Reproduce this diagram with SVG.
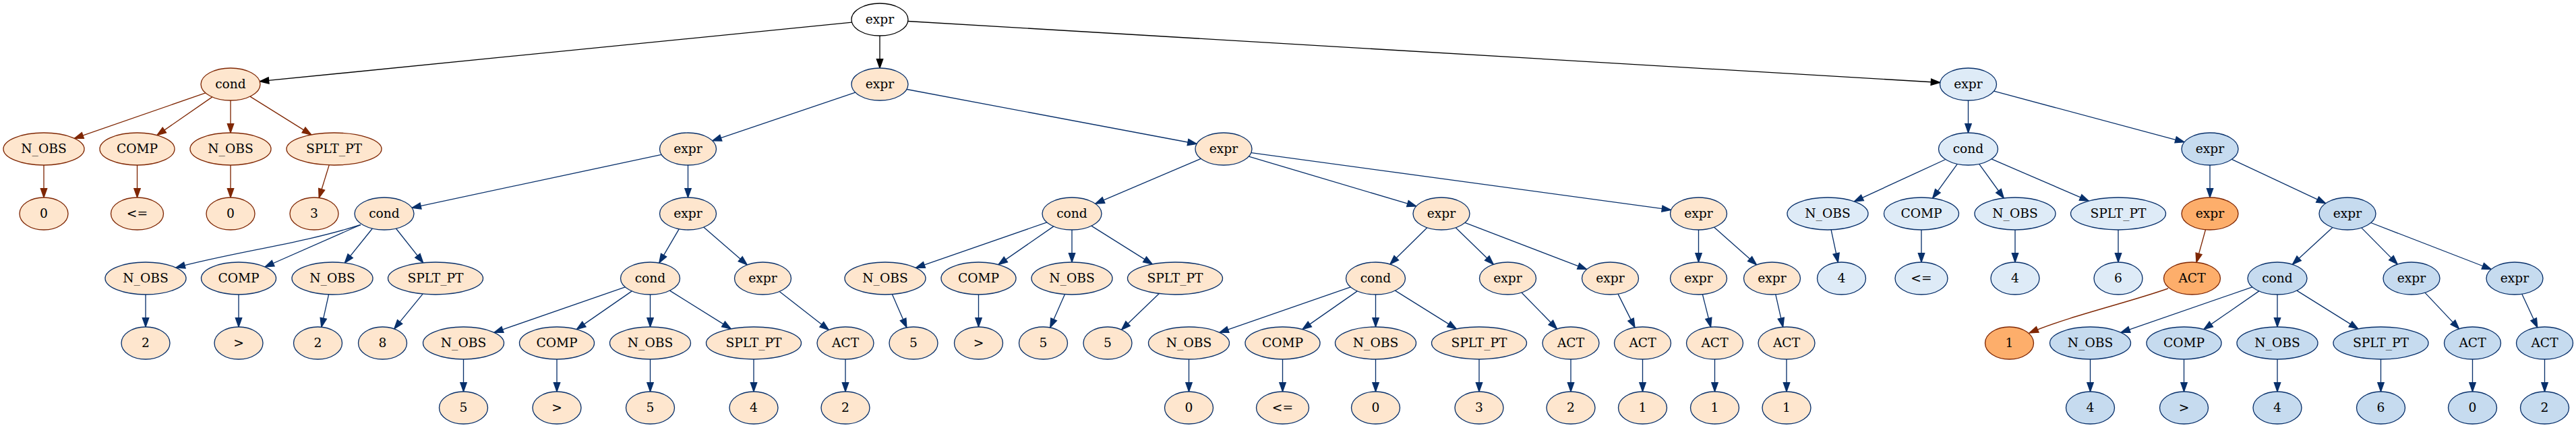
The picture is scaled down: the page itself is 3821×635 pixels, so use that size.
<svg xmlns="http://www.w3.org/2000/svg" width="3821" height="635" viewBox="0 0 3821 635">
<style>
text{font-family:"DejaVu Serif","Liberation Serif",serif;font-size:18.67px;text-anchor:middle;fill:#000}
ellipse{stroke-width:1.33}
.w ellipse{fill:#fff;stroke:#000}
.ob ellipse{fill:#fee6ce;stroke:#7f2704}
.on ellipse{fill:#fee6ce;stroke:#08306b}
.lb ellipse{fill:#deebf7;stroke:#08306b}
.mb ellipse{fill:#c6dbef;stroke:#08306b}
.or ellipse{fill:#fdae6b;stroke:#7f2704}
.e path{fill:none;stroke-width:1.33}
.k path{stroke:#000;marker-end:url(#ak)}
.b path{stroke:#08306b;marker-end:url(#ab)}
.r path{stroke:#7f2704;marker-end:url(#ar)}
</style>
<defs>
<marker id="ak" viewBox="-2 -2 18 14" refX="13.33" refY="4.67" markerWidth="18" markerHeight="14" orient="auto" markerUnits="userSpaceOnUse"><path d="M0,0L13.33,4.67L0,9.33z" fill="#000" stroke="#000" stroke-width="1.33"/></marker>
<marker id="ab" viewBox="-2 -2 18 14" refX="13.33" refY="4.67" markerWidth="18" markerHeight="14" orient="auto" markerUnits="userSpaceOnUse"><path d="M0,0L13.33,4.67L0,9.33z" fill="#08306b" stroke="#08306b" stroke-width="1.33"/></marker>
<marker id="ar" viewBox="-2 -2 18 14" refX="13.33" refY="4.67" markerWidth="18" markerHeight="14" orient="auto" markerUnits="userSpaceOnUse"><path d="M0,0L13.33,4.67L0,9.33z" fill="#7f2704" stroke="#7f2704" stroke-width="1.33"/></marker>
</defs>
<rect width="3821" height="635" fill="#fff"/>
<g id="edges" class="e">
<g class="k">
<path d="M1263.6,33.1L385.3,120.7"/>
<path d="M1305,53L1305,101"/>
<path d="M1346.8,31.5L2877.7,122.5"/>
</g>
<g class="r">
<path d="M304.9,137.9L110.3,205.3"/>
<path d="M314.8,143.9L232.9,200.6"/>
<path d="M342,149L342,197"/>
<path d="M370.9,143.1L461.8,199.9"/>
<path d="M65,245L65,293"/>
<path d="M203.5,245L203.5,293"/>
<path d="M342,245L342,293"/>
<path d="M488.2,244.9L473.2,293.5"/>
<path d="M3271.5,340.7L3258,389.3"/>
<path d="M3216,428C3157,449 3072,468 3010,494"/>
</g>
<g class="b">
<path d="M1268.8,137.2L1056.7,208.8"/>
<path d="M1344.9,132.5L1775.1,213.5"/>
<path d="M981.2,229.4L611,308.3"/>
<path d="M1020.5,245L1020.5,293"/>
<path d="M535,333.5C446,362 351,373 261,397"/>
<path d="M535,333.5L393,396"/>
<path d="M552.4,339L511.3,390.1"/>
<path d="M587.4,339L627.7,389.8"/>
<path d="M216,437L216,485"/>
<path d="M354,437L354,485"/>
<path d="M487.6,436.9L476.8,485.3"/>
<path d="M627.1,436.1L584.7,487.9"/>
<path d="M1007.2,339.8L977.8,390.1"/>
<path d="M1043.7,337L1108.3,393"/>
<path d="M927.4,425.9L732.9,493.3"/>
<path d="M937.3,431.9L855.4,488.6"/>
<path d="M964.5,437L964.5,485"/>
<path d="M993.4,431.1L1084.3,487.9"/>
<path d="M1156.2,432.4L1229.3,489.6"/>
<path d="M687.5,533L687.5,581"/>
<path d="M826,533L826,581"/>
<path d="M964.5,533L964.5,581"/>
<path d="M1118,533L1118,581"/>
<path d="M1254,533L1254,581"/>
<path d="M1781.3,235.4L1624.7,302.2"/>
<path d="M1852.3,232.1L2100.7,305.9"/>
<path d="M1855.9,226.6L2478.6,311.4"/>
<path d="M1552.9,329.9L1358.4,397.3"/>
<path d="M1562.8,335.9L1480.9,392.6"/>
<path d="M1590,341L1590,389"/>
<path d="M1618.9,335.1L1709.3,391.9"/>
<path d="M1323.3,436.6L1344.9,486"/>
<path d="M1451.5,437L1451.5,485"/>
<path d="M1579.5,436.6L1557.7,486"/>
<path d="M1719.4,435.6L1663.5,489.3"/>
<path d="M2116.9,337.8L2061.8,392"/>
<path d="M2159.2,337.7L2215.3,392.3"/>
<path d="M2172.9,330.4L2353.6,399.6"/>
<path d="M2003.4,425.9L1808.9,493.3"/>
<path d="M2013.3,431.9L1931.9,488.6"/>
<path d="M2040.5,437L2040.5,485"/>
<path d="M2069.4,431.1L2160.3,487.9"/>
<path d="M2256.9,434L2309.6,488"/>
<path d="M2400,436.1L2425,485.9"/>
<path d="M1763.5,533L1763.5,581"/>
<path d="M1902.5,533L1902.5,581"/>
<path d="M2040.5,533L2040.5,581"/>
<path d="M2194,533L2194,581"/>
<path d="M2330,533L2330,581"/>
<path d="M2436.5,533L2436.5,581"/>
<path d="M2519.5,341L2519.5,389"/>
<path d="M2542.4,337.1L2605.6,392.9"/>
<path d="M2525.4,436.8L2537.6,485.2"/>
<path d="M2633.8,436.8L2644.7,485.2"/>
<path d="M2543.5,533L2543.5,581"/>
<path d="M2650,533L2650,581"/>
<path d="M2919.5,149L2919.5,197"/>
<path d="M2957.5,135.2L3240,210.8"/>
<path d="M2885.9,236.5L2750.4,298.9"/>
<path d="M2903.3,243.3L2866.6,294.1"/>
<path d="M2935.7,243.3L2972.3,294"/>
<path d="M2954,235.9L3098.3,298.2"/>
<path d="M2716.1,340.9L2726.4,389.2"/>
<path d="M2850,341L2850,389"/>
<path d="M2989,341L2989,389"/>
<path d="M3142,341L3142,389"/>
<path d="M3278,245L3278,293"/>
<path d="M3310.4,236.3L3449.6,301.7"/>
<path d="M3459.9,337.4L3400.4,392.3"/>
<path d="M3502.7,337.9L3556.3,392.1"/>
<path d="M3516.8,330.5L3695.2,399.5"/>
<path d="M3340.9,425.9L3145.9,493.3"/>
<path d="M3350.8,431.9L3268.9,488.6"/>
<path d="M3378,437L3378,485"/>
<path d="M3406.9,431.1L3497.8,487.9"/>
<path d="M3596.9,434.1L3647.6,487.9"/>
<path d="M3740.8,436.2L3763.8,485.8"/>
<path d="M3100.5,533L3100.5,581"/>
<path d="M3239.5,533L3239.5,581"/>
<path d="M3378,533L3378,581"/>
<path d="M3531.5,533L3531.5,581"/>
<path d="M3667.5,533L3667.5,581"/>
<path d="M3774.5,533L3774.5,581"/>
</g>
</g>
<g id="n0" class="w"><ellipse cx="1305" cy="29" rx="42" ry="24"/><text x="1305" y="34.6">expr</text></g>
<g id="n1" class="ob"><ellipse cx="342" cy="125" rx="44" ry="24"/><text x="342" y="130.6">cond</text></g>
<g id="n2" class="on"><ellipse cx="1305" cy="125" rx="42" ry="24"/><text x="1305" y="130.6">expr</text></g>
<g id="n3" class="lb"><ellipse cx="2919.5" cy="125" rx="42" ry="24"/><text x="2919.5" y="130.6">expr</text></g>
<g id="n4" class="ob"><ellipse cx="65" cy="221" rx="60" ry="24"/><text x="65" y="226.6">N_OBS</text></g>
<g id="n5" class="ob"><ellipse cx="203.5" cy="221" rx="55.5" ry="24"/><text x="203.5" y="226.6">COMP</text></g>
<g id="n6" class="ob"><ellipse cx="342" cy="221" rx="60" ry="24"/><text x="342" y="226.6">N_OBS</text></g>
<g id="n7" class="ob"><ellipse cx="495.5" cy="221" rx="70.5" ry="24"/><text x="495.5" y="226.6">SPLT_PT</text></g>
<g id="n8" class="on"><ellipse cx="1020.5" cy="221" rx="42" ry="24"/><text x="1020.5" y="226.6">expr</text></g>
<g id="n9" class="on"><ellipse cx="1815" cy="221" rx="42" ry="24"/><text x="1815" y="226.6">expr</text></g>
<g id="n10" class="lb"><ellipse cx="2919.5" cy="221" rx="44" ry="24"/><text x="2919.5" y="226.6">cond</text></g>
<g id="n11" class="mb"><ellipse cx="3278" cy="221" rx="42" ry="24"/><text x="3278" y="226.6">expr</text></g>
<g id="n12" class="ob"><ellipse cx="65" cy="317" rx="36" ry="24"/><text x="65" y="322.6">0</text></g>
<g id="n13" class="ob"><ellipse cx="203.5" cy="317" rx="39" ry="24"/><text x="203.5" y="322.6">&lt;=</text></g>
<g id="n14" class="ob"><ellipse cx="342" cy="317" rx="36" ry="24"/><text x="342" y="322.6">0</text></g>
<g id="n15" class="ob"><ellipse cx="466" cy="317" rx="36" ry="24"/><text x="466" y="322.6">3</text></g>
<g id="n16" class="on"><ellipse cx="570" cy="317" rx="44" ry="24"/><text x="570" y="322.6">cond</text></g>
<g id="n17" class="on"><ellipse cx="1020.5" cy="317" rx="42" ry="24"/><text x="1020.5" y="322.6">expr</text></g>
<g id="n18" class="on"><ellipse cx="1590" cy="317" rx="44" ry="24"/><text x="1590" y="322.6">cond</text></g>
<g id="n19" class="on"><ellipse cx="2138" cy="317" rx="42" ry="24"/><text x="2138" y="322.6">expr</text></g>
<g id="n20" class="on"><ellipse cx="2519.5" cy="317" rx="42" ry="24"/><text x="2519.5" y="322.6">expr</text></g>
<g id="n21" class="lb"><ellipse cx="2711" cy="317" rx="60" ry="24"/><text x="2711" y="322.6">N_OBS</text></g>
<g id="n22" class="lb"><ellipse cx="2850" cy="317" rx="55.5" ry="24"/><text x="2850" y="322.6">COMP</text></g>
<g id="n23" class="lb"><ellipse cx="2989" cy="317" rx="60" ry="24"/><text x="2989" y="322.6">N_OBS</text></g>
<g id="n24" class="lb"><ellipse cx="3142" cy="317" rx="70.5" ry="24"/><text x="3142" y="322.6">SPLT_PT</text></g>
<g id="n25" class="or"><ellipse cx="3278" cy="317" rx="42" ry="24"/><text x="3278" y="322.6">expr</text></g>
<g id="n26" class="mb"><ellipse cx="3482" cy="317" rx="42" ry="24"/><text x="3482" y="322.6">expr</text></g>
<g id="n27" class="on"><ellipse cx="216" cy="413" rx="60" ry="24"/><text x="216" y="418.6">N_OBS</text></g>
<g id="n28" class="on"><ellipse cx="354" cy="413" rx="55.5" ry="24"/><text x="354" y="418.6">COMP</text></g>
<g id="n29" class="on"><ellipse cx="493" cy="413" rx="60" ry="24"/><text x="493" y="418.6">N_OBS</text></g>
<g id="n30" class="on"><ellipse cx="646" cy="413" rx="70.5" ry="24"/><text x="646" y="418.6">SPLT_PT</text></g>
<g id="n31" class="on"><ellipse cx="964.5" cy="413" rx="44" ry="24"/><text x="964.5" y="418.6">cond</text></g>
<g id="n32" class="on"><ellipse cx="1131.5" cy="413" rx="42" ry="24"/><text x="1131.5" y="418.6">expr</text></g>
<g id="n33" class="on"><ellipse cx="1313" cy="413" rx="60" ry="24"/><text x="1313" y="418.6">N_OBS</text></g>
<g id="n34" class="on"><ellipse cx="1451.5" cy="413" rx="55.5" ry="24"/><text x="1451.5" y="418.6">COMP</text></g>
<g id="n35" class="on"><ellipse cx="1590" cy="413" rx="60" ry="24"/><text x="1590" y="418.6">N_OBS</text></g>
<g id="n36" class="on"><ellipse cx="1743" cy="413" rx="70.5" ry="24"/><text x="1743" y="418.6">SPLT_PT</text></g>
<g id="n37" class="on"><ellipse cx="2040.5" cy="413" rx="44" ry="24"/><text x="2040.5" y="418.6">cond</text></g>
<g id="n38" class="on"><ellipse cx="2236.5" cy="413" rx="42" ry="24"/><text x="2236.5" y="418.6">expr</text></g>
<g id="n39" class="on"><ellipse cx="2388.5" cy="413" rx="42" ry="24"/><text x="2388.5" y="418.6">expr</text></g>
<g id="n40" class="on"><ellipse cx="2519.5" cy="413" rx="42" ry="24"/><text x="2519.5" y="418.6">expr</text></g>
<g id="n41" class="on"><ellipse cx="2628.5" cy="413" rx="42" ry="24"/><text x="2628.5" y="418.6">expr</text></g>
<g id="n42" class="lb"><ellipse cx="2731.5" cy="413" rx="36" ry="24"/><text x="2731.5" y="418.6">4</text></g>
<g id="n43" class="lb"><ellipse cx="2850" cy="413" rx="39" ry="24"/><text x="2850" y="418.6">&lt;=</text></g>
<g id="n44" class="lb"><ellipse cx="2989" cy="413" rx="36" ry="24"/><text x="2989" y="418.6">4</text></g>
<g id="n45" class="lb"><ellipse cx="3142" cy="413" rx="36" ry="24"/><text x="3142" y="418.6">6</text></g>
<g id="n46" class="or"><ellipse cx="3251.5" cy="413" rx="42" ry="24"/><text x="3251.5" y="418.6">ACT</text></g>
<g id="n47" class="mb"><ellipse cx="3378" cy="413" rx="44" ry="24"/><text x="3378" y="418.6">cond</text></g>
<g id="n48" class="mb"><ellipse cx="3577" cy="413" rx="42" ry="24"/><text x="3577" y="418.6">expr</text></g>
<g id="n49" class="mb"><ellipse cx="3730" cy="413" rx="42" ry="24"/><text x="3730" y="418.6">expr</text></g>
<g id="n50" class="on"><ellipse cx="216" cy="509" rx="36" ry="24"/><text x="216" y="514.6">2</text></g>
<g id="n51" class="on"><ellipse cx="354" cy="509" rx="36" ry="24"/><text x="354" y="514.6">&gt;</text></g>
<g id="n52" class="on"><ellipse cx="471.5" cy="509" rx="36" ry="24"/><text x="471.5" y="514.6">2</text></g>
<g id="n53" class="on"><ellipse cx="567.5" cy="509" rx="36" ry="24"/><text x="567.5" y="514.6">8</text></g>
<g id="n54" class="on"><ellipse cx="687.5" cy="509" rx="60" ry="24"/><text x="687.5" y="514.6">N_OBS</text></g>
<g id="n55" class="on"><ellipse cx="826" cy="509" rx="55.5" ry="24"/><text x="826" y="514.6">COMP</text></g>
<g id="n56" class="on"><ellipse cx="964.5" cy="509" rx="60" ry="24"/><text x="964.5" y="514.6">N_OBS</text></g>
<g id="n57" class="on"><ellipse cx="1118" cy="509" rx="70.5" ry="24"/><text x="1118" y="514.6">SPLT_PT</text></g>
<g id="n58" class="on"><ellipse cx="1254" cy="509" rx="42" ry="24"/><text x="1254" y="514.6">ACT</text></g>
<g id="n59" class="on"><ellipse cx="1355" cy="509" rx="36" ry="24"/><text x="1355" y="514.6">5</text></g>
<g id="n60" class="on"><ellipse cx="1451.5" cy="509" rx="36" ry="24"/><text x="1451.5" y="514.6">&gt;</text></g>
<g id="n61" class="on"><ellipse cx="1547.5" cy="509" rx="36" ry="24"/><text x="1547.5" y="514.6">5</text></g>
<g id="n62" class="on"><ellipse cx="1643" cy="509" rx="36" ry="24"/><text x="1643" y="514.6">5</text></g>
<g id="n63" class="on"><ellipse cx="1763.5" cy="509" rx="60" ry="24"/><text x="1763.5" y="514.6">N_OBS</text></g>
<g id="n64" class="on"><ellipse cx="1902.5" cy="509" rx="55.5" ry="24"/><text x="1902.5" y="514.6">COMP</text></g>
<g id="n65" class="on"><ellipse cx="2040.5" cy="509" rx="60" ry="24"/><text x="2040.5" y="514.6">N_OBS</text></g>
<g id="n66" class="on"><ellipse cx="2194" cy="509" rx="70.5" ry="24"/><text x="2194" y="514.6">SPLT_PT</text></g>
<g id="n67" class="on"><ellipse cx="2330" cy="509" rx="42" ry="24"/><text x="2330" y="514.6">ACT</text></g>
<g id="n68" class="on"><ellipse cx="2436.5" cy="509" rx="42" ry="24"/><text x="2436.5" y="514.6">ACT</text></g>
<g id="n69" class="on"><ellipse cx="2543.5" cy="509" rx="42" ry="24"/><text x="2543.5" y="514.6">ACT</text></g>
<g id="n70" class="on"><ellipse cx="2650" cy="509" rx="42" ry="24"/><text x="2650" y="514.6">ACT</text></g>
<g id="n71" class="or"><ellipse cx="2980.5" cy="509" rx="36" ry="24"/><text x="2980.5" y="514.6">1</text></g>
<g id="n72" class="mb"><ellipse cx="3100.5" cy="509" rx="60" ry="24"/><text x="3100.5" y="514.6">N_OBS</text></g>
<g id="n73" class="mb"><ellipse cx="3239.5" cy="509" rx="55.5" ry="24"/><text x="3239.5" y="514.6">COMP</text></g>
<g id="n74" class="mb"><ellipse cx="3378" cy="509" rx="60" ry="24"/><text x="3378" y="514.6">N_OBS</text></g>
<g id="n75" class="mb"><ellipse cx="3531.5" cy="509" rx="70.5" ry="24"/><text x="3531.5" y="514.6">SPLT_PT</text></g>
<g id="n76" class="mb"><ellipse cx="3667.5" cy="509" rx="42" ry="24"/><text x="3667.5" y="514.6">ACT</text></g>
<g id="n77" class="mb"><ellipse cx="3774.5" cy="509" rx="42" ry="24"/><text x="3774.5" y="514.6">ACT</text></g>
<g id="n78" class="on"><ellipse cx="687.5" cy="605" rx="36" ry="24"/><text x="687.5" y="610.6">5</text></g>
<g id="n79" class="on"><ellipse cx="826" cy="605" rx="36" ry="24"/><text x="826" y="610.6">&gt;</text></g>
<g id="n80" class="on"><ellipse cx="964.5" cy="605" rx="36" ry="24"/><text x="964.5" y="610.6">5</text></g>
<g id="n81" class="on"><ellipse cx="1118" cy="605" rx="36" ry="24"/><text x="1118" y="610.6">4</text></g>
<g id="n82" class="on"><ellipse cx="1254" cy="605" rx="36" ry="24"/><text x="1254" y="610.6">2</text></g>
<g id="n83" class="on"><ellipse cx="1763.5" cy="605" rx="36" ry="24"/><text x="1763.5" y="610.6">0</text></g>
<g id="n84" class="on"><ellipse cx="1902.5" cy="605" rx="39" ry="24"/><text x="1902.5" y="610.6">&lt;=</text></g>
<g id="n85" class="on"><ellipse cx="2040.5" cy="605" rx="36" ry="24"/><text x="2040.5" y="610.6">0</text></g>
<g id="n86" class="on"><ellipse cx="2194" cy="605" rx="36" ry="24"/><text x="2194" y="610.6">3</text></g>
<g id="n87" class="on"><ellipse cx="2330" cy="605" rx="36" ry="24"/><text x="2330" y="610.6">2</text></g>
<g id="n88" class="on"><ellipse cx="2436.5" cy="605" rx="36" ry="24"/><text x="2436.5" y="610.6">1</text></g>
<g id="n89" class="on"><ellipse cx="2543.5" cy="605" rx="36" ry="24"/><text x="2543.5" y="610.6">1</text></g>
<g id="n90" class="on"><ellipse cx="2650" cy="605" rx="36" ry="24"/><text x="2650" y="610.6">1</text></g>
<g id="n91" class="mb"><ellipse cx="3100.5" cy="605" rx="36" ry="24"/><text x="3100.5" y="610.6">4</text></g>
<g id="n92" class="mb"><ellipse cx="3239.5" cy="605" rx="36" ry="24"/><text x="3239.5" y="610.6">&gt;</text></g>
<g id="n93" class="mb"><ellipse cx="3378" cy="605" rx="36" ry="24"/><text x="3378" y="610.6">4</text></g>
<g id="n94" class="mb"><ellipse cx="3531.5" cy="605" rx="36" ry="24"/><text x="3531.5" y="610.6">6</text></g>
<g id="n95" class="mb"><ellipse cx="3667.5" cy="605" rx="36" ry="24"/><text x="3667.5" y="610.6">0</text></g>
<g id="n96" class="mb"><ellipse cx="3774.5" cy="605" rx="36" ry="24"/><text x="3774.5" y="610.6">2</text></g>
</svg>
